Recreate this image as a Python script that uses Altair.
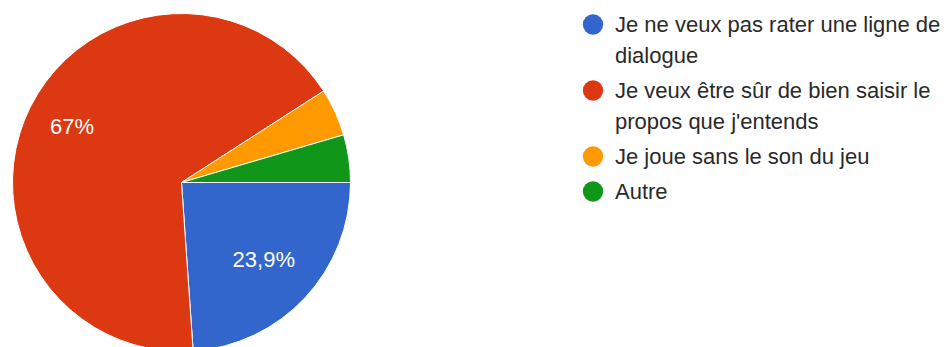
import altair as alt
import pandas as pd
import json
import math

categories = [
    "Je ne veux pas rater une ligne de dialogue",
    "Je veux être sûr de bien saisir le propos que j'entends",
    "Je joue sans le son du jeu",
    "Autre",
]
values = [23.9, 67.0, 4.55, 4.55]
slice_labels = ["23,9%", "67%", "", ""]
legend_lines = [
    ["Je ne veux pas rater une ligne de", "dialogue"],
    ["Je veux être sûr de bien saisir le", "propos que j'entends"],
    ["Je joue sans le son du jeu"],
    ["Autre"],
]
colors = ["#3366cc", "#dc3912", "#ff9900", "#109618"]

df = pd.DataFrame({
    "category": categories,
    "value": values,
    "label": slice_labels,
    "order": list(range(len(categories))),
})

expr = ""
for cat, lines in zip(categories, legend_lines):
    expr += f"datum.label == {json.dumps(cat, ensure_ascii=False)} ? {json.dumps(lines, ensure_ascii=False)} : "
expr += "datum.label"

FONT = "Liberation Sans, Arial, sans-serif"

base = alt.Chart(df).encode(
    theta=alt.Theta("value:Q", stack=True,
                    scale=alt.Scale(range=[math.pi / 2, math.pi / 2 + 2 * math.pi])),
    order=alt.Order("order:Q"),
)

pie = base.mark_arc(outerRadius=169, stroke="white", strokeWidth=1).encode(
    color=alt.Color(
        "category:N",
        scale=alt.Scale(domain=categories, range=colors),
        legend=alt.Legend(
            title=None, orient="none", legendX=574, legendY=5.5,
            symbolType="circle", symbolSize=415, symbolStrokeWidth=0,
            labelFontSize=22, labelFont=FONT, labelColor="#2a2a2a",
            labelOffset=11, labelLimit=1000, rowPadding=13, padding=0,
            labelBaseline="middle", labelExpr=expr,
        ),
    )
)

text = base.mark_text(radius=118, dx=-4, dy=-3, fontSize=22, font=FONT, color="white").encode(
    text="label:N"
)

chart = (pie + text).properties(width=347, height=349, padding=0).configure_view(
    stroke=None
).configure(style={"guide-label": {"lineHeight": 31}})

chart.save("out.html", embed_options={"renderer": "svg", "actions": False})
